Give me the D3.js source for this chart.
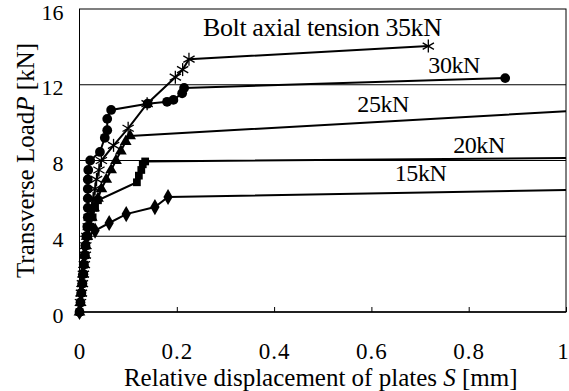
<!DOCTYPE html>
<html><head><meta charset="utf-8">
<script src="https://cdn.jsdelivr.net/npm/d3@7"></script>
<style>
html,body{margin:0;padding:0;background:#fff;}
svg text{font-family:"Liberation Serif",serif !important;fill:#000;}
</style></head>
<body><svg id="chart" width="569" height="391" font-family="Liberation Serif"></svg>
<script>
// Data: [S (mm), P (kN)]
const s15 = [[0,0],[0.002,0.5],[0.003,1],[0.005,1.5],[0.006,2],[0.008,2.5],[0.01,3],[0.012,3.5],[0.016,4],[0.032,4.3],[0.061,4.7],[0.096,5.17],[0.155,5.54],[0.182,6.07],[1.0,6.44]];
const s20 = [[0,0],[0.002,0.5],[0.004,1],[0.006,1.5],[0.008,2],[0.01,2.5],[0.012,3],[0.014,3.5],[0.018,4],[0.022,4.5],[0.027,5],[0.032,5.5],[0.038,5.9],[0.118,6.85],[0.122,7.2],[0.127,7.5],[0.13,7.8],[0.135,7.95],[1.0,8.13]];
const s25 = [[0,0],[0.002,0.5],[0.003,1],[0.005,1.5],[0.007,2],[0.009,2.5],[0.011,3],[0.013,3.5],[0.016,4],[0.02,4.5],[0.025,5],[0.03,5.5],[0.038,6],[0.045,6.5],[0.055,7],[0.065,7.5],[0.075,8],[0.085,8.5],[0.095,9],[0.104,9.3],[1.0,10.6]];
const s30 = [[0,0],[0.002,0.5],[0.004,1],[0.006,1.5],[0.008,2],[0.009,2.5],[0.011,3],[0.012,3.5],[0.014,4],[0.016,4.5],[0.017,5],[0.017,5.5],[0.017,6],[0.017,6.5],[0.017,7],[0.018,7.5],[0.022,8],[0.042,8.45],[0.052,9.2],[0.057,9.6],[0.057,10.2],[0.065,10.67],[0.14,11.0],[0.18,11.1],[0.193,11.2],[0.211,11.55],[0.215,11.83],[0.875,12.35]];
const s35 = [[0,0],[0.002,0.5],[0.004,1],[0.006,1.5],[0.008,2],[0.01,2.5],[0.012,3],[0.013,3.5],[0.015,4],[0.018,4.5],[0.02,5],[0.025,5.5],[0.028,6],[0.032,6.5],[0.035,7],[0.04,7.5],[0.045,8],[0.07,8.8],[0.1,9.7],[0.139,11.0],[0.197,12.4],[0.212,12.8],[0.225,13.35],[0.717,14.04]];
const seriesNames = ["15kN","20kN","25kN","30kN","35kN"];
const seriesData = [s15,s20,s25,s30,s35];
const seriesMarkers = ["diamond","square","triangle","circle","asterisk"];
const labelTexts = ["15kN","20kN","25kN","30kN","Bolt axial tension 35kN"];
const labelPos = [[0.648,6.9],[0.768,8.4],[0.571,10.57],[0.717,12.6],[0.254,14.55]];
const xTicks = [0,0.2,0.4,0.6,0.8,1];
const yTicks = [0,4,8,12,16];
const xTitle = "Relative displacement of plates ";
const yTitle = "Transverse Load";

const FONT = "Liberation Serif";
const svg = d3.select("#chart");
const x = d3.scaleLinear().domain([0,1]).range([79.5,566]);
const y = d3.scaleLinear().domain([0,16]).range([312,9]);

// gridlines
svg.append("g").selectAll("line").data([4,8,12]).join("line")
  .attr("x1",x(0)).attr("x2",x(1)).attr("y1",d=>y(d)).attr("y2",d=>y(d))
  .attr("stroke","#000").attr("stroke-width",1);
// frame
svg.append("rect").attr("x",x(0)).attr("y",y(16)).attr("width",x(1)-x(0)).attr("height",y(0)-y(16))
  .attr("fill","none").attr("stroke","#000").attr("stroke-width",1);
svg.append("line").attr("x1",x(0)).attr("x2",x(1)).attr("y1",y(0)).attr("y2",y(0)).attr("stroke","#000").attr("stroke-width",1.5);

// x axis
const xAxis = d3.axisBottom(x).tickValues(xTicks).tickSize(-5).tickPadding(0)
  .tickFormat(d=>d===1?"1":d3.format("")(d));
const gx = svg.append("g").attr("transform",`translate(0,${y(0)})`).call(xAxis);
gx.attr("font-family",FONT);
gx.select(".domain").remove();
gx.selectAll(".tick line").attr("stroke","#000");
gx.selectAll(".tick text").attr("font-size",23).attr("dy",0).attr("y",47).attr("letter-spacing","1px")
  .attr("font-family",FONT)
  .attr("dx",d=>d===1?-3:0);

// y axis
const yAxis = d3.axisLeft(y).tickValues(yTicks).tickSize(0).tickPadding(0);
const gy = svg.append("g").attr("transform",`translate(${x(0)},0)`).call(yAxis);
gy.attr("font-family",FONT);
gy.select(".domain").remove();
gy.selectAll(".tick text").attr("font-size",22).attr("x",-16).attr("dy",10)
  .attr("font-family",FONT);

// lines
const line = d3.line().x(d=>x(d[0])).y(d=>y(d[1]));
const g = svg.append("g");
seriesData.forEach((data,i)=>{
  g.append("path").datum(data).attr("d",line).attr("fill","none").attr("stroke","#000").attr("stroke-width",2);
});
// markers
const sym = {diamond:d3.symbolDiamond, square:d3.symbolSquare, triangle:d3.symbolTriangle, circle:d3.symbolCircle};
const symSize = {diamond:75, square:60, triangle:60, circle:75};
seriesData.forEach((data,i)=>{
  const m = seriesMarkers[i];
  const pts = data.filter(d=>!(m!=="asterisk" && m!=="circle" && d[0]===1));
  if(m==="asterisk"){
    const a = g.append("g").selectAll("g").data(data.slice(1)).join("g")
      .attr("transform",d=>`translate(${x(d[0])},${y(d[1])})`);
    [0,60,120].forEach(ang=>{
      a.append("line").attr("x1",0).attr("y1",-6.5).attr("x2",0).attr("y2",6.5)
        .attr("transform",`rotate(${ang})`).attr("stroke","#000").attr("stroke-width",1.3);
    });
  } else {
    g.append("g").selectAll("path").data(pts).join("path")
      .attr("transform",d=>`translate(${x(d[0])},${y(d[1])})`)
      .attr("d",d3.symbol().type(sym[m]).size(symSize[m])).attr("fill","#000");
  }
});

// series labels
svg.append("g").selectAll("text").data(labelTexts).join("text")
  .attr("x",(d,i)=>x(labelPos[i][0])).attr("y",(d,i)=>y(labelPos[i][1]))
  .attr("font-family",FONT).attr("font-size",(d,i)=>i===4?26:24).attr("letter-spacing","-0.4px")
  .text(d=>d);

// axis titles
const xt = svg.append("text").attr("x",(x(0)+x(1))/2-2).attr("y",386).attr("text-anchor","middle")
  .attr("font-family",FONT).attr("font-size",25);
xt.append("tspan").text(xTitle);
xt.append("tspan").attr("font-style","italic").text("S");
xt.append("tspan").text("  [mm]");

const yt = svg.append("text").attr("transform",`translate(34,${(y(0)+y(16))/2}) rotate(-90)`)
  .attr("text-anchor","middle").attr("font-family",FONT).attr("font-size",25);
yt.append("tspan").text(yTitle);
yt.append("tspan").attr("font-style","italic").text("P");
yt.append("tspan").text("  [kN]");
</script></body></html>
